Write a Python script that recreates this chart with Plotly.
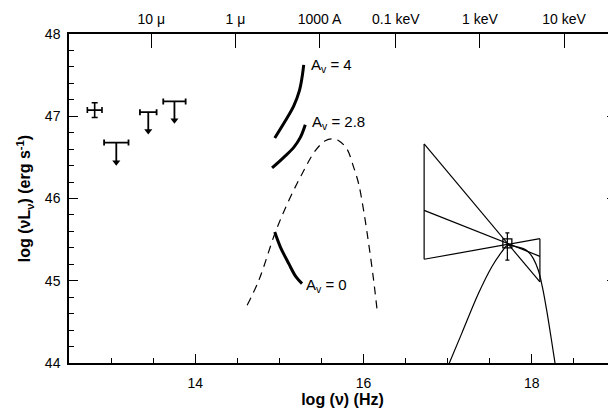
import plotly.graph_objects as go

# ---------------- data ----------------
# IR detection (with error bars)
ir_x = [12.805]
ir_y = [47.075]
ir_xerr = [0.087]
ir_yerr = [0.09]

# IR upper limits
ul_x = [13.062, 13.442, 13.753]
ul_y = [46.68, 47.05, 47.18]
ul_xerr = [0.145, 0.099, 0.133]
ul_len = [0.24, 0.23, 0.23]

# dereddened UV segments
av4_x = [14.945, 15.071, 15.171, 15.237, 15.269, 15.289]
av4_y = [46.736, 46.945, 47.127, 47.309, 47.470, 47.624]
av28_x = [14.913, 15.052, 15.171, 15.249, 15.308]
av28_y = [46.372, 46.501, 46.622, 46.743, 46.897]
av0_x = [14.945, 15.012, 15.111, 15.198, 15.269]
av0_y = [45.592, 45.410, 45.209, 45.046, 44.966]

# dashed big blue bump
bump_x = [14.617, 14.756, 14.953, 15.112, 15.269, 15.427, 15.546, 15.625,
          15.705, 15.803, 15.883, 15.942, 16.001, 16.061, 16.120, 16.159]
bump_y = [44.703, 45.006, 45.592, 45.976, 46.299, 46.582, 46.703, 46.724,
          46.703, 46.602, 46.379, 46.178, 45.855, 45.451, 45.006, 44.663]

# X-ray bow-tie
bow_x_left = 16.720
bow_x_right = 18.096
bow_left_y = [46.663, 45.855, 45.261]   # top, middle, bottom
bow_right_y = [44.985, 45.297, 45.512]  # ends of the same lines

xr_x = [17.709]
xr_y = [45.454]
xr_err_up = [0.129]
xr_err_dn = [0.203]

# curved X-ray model
xcurve_x = [17.001, 17.167, 17.365, 17.523, 17.642, 17.709, 17.800, 17.899,
            17.959, 18.018, 18.077, 18.125, 18.176, 18.227, 18.282]
xcurve_y = [43.955, 44.360, 44.845, 45.168, 45.350, 45.430, 45.418, 45.390,
            45.350, 45.269, 45.127, 44.925, 44.642, 44.319, 43.955]

# curve labels
lab_text = ["A<sub>v</sub> = 4", "A<sub>v</sub> = 2.8", "A<sub>v</sub> = 0"]
lab_x = [15.35, 15.36, 15.29]
lab_y = [47.62, 46.93, 44.94]

# top axis
top_vals = [13.477, 14.477, 15.477, 16.383, 17.383, 18.383]
top_text = ["10 \u03bc", "1 \u03bc", "1000 A", "0.1 keV", "1 keV", "10 keV"]

xrange_ = [12.5, 19.0]
yrange_ = [44.0, 48.0]

FONT = "Liberation Sans, Arial, Helvetica, sans-serif"
BLACK = "black"

fig = go.Figure()

# IR point with errors
fig.add_trace(go.Scatter(
    x=ir_x, y=ir_y, mode="markers",
    marker=dict(size=1, color=BLACK),
    error_x=dict(type="data", array=ir_xerr, width=3, thickness=1.6, color=BLACK),
    error_y=dict(type="data", array=ir_yerr, width=3, thickness=1.6, color=BLACK),
    showlegend=False))

# upper limits: horizontal bar + stem
fig.add_trace(go.Scatter(
    x=ul_x, y=ul_y, mode="markers",
    marker=dict(size=1, color=BLACK),
    error_x=dict(type="data", array=ul_xerr, width=3, thickness=1.8, color=BLACK),
    error_y=dict(type="data", symmetric=False, array=[0, 0, 0], arrayminus=ul_len,
                 width=0, thickness=1.8, color=BLACK),
    showlegend=False))
# arrow heads
fig.add_trace(go.Scatter(
    x=ul_x, y=[y - l for y, l in zip(ul_y, ul_len)], mode="markers",
    marker=dict(symbol="triangle-down", size=7, color=BLACK),
    showlegend=False))

# thick UV segments
for xs, ys in [(av4_x, av4_y), (av28_x, av28_y), (av0_x, av0_y)]:
    fig.add_trace(go.Scatter(x=xs, y=ys, mode="lines", line=dict(color=BLACK, width=3, shape="spline"),
                             showlegend=False))

# dashed bump
fig.add_trace(go.Scatter(x=bump_x, y=bump_y, mode="lines",
                         line=dict(color=BLACK, width=1.2, dash="8px,6px", shape="spline"),
                         showlegend=False))

# bow-tie lines
for yl, yr in zip(bow_left_y, bow_right_y):
    fig.add_trace(go.Scatter(x=[bow_x_left, bow_x_right], y=[yl, yr], mode="lines",
                             line=dict(color=BLACK, width=1.2), showlegend=False))
fig.add_trace(go.Scatter(x=[bow_x_left, bow_x_left], y=[min(bow_left_y), max(bow_left_y)],
                         mode="lines", line=dict(color=BLACK, width=1.2), showlegend=False))
fig.add_trace(go.Scatter(x=[bow_x_right, bow_x_right], y=[min(bow_right_y), max(bow_right_y)],
                         mode="lines", line=dict(color=BLACK, width=1.2), showlegend=False))

# curved model
fig.add_trace(go.Scatter(x=xcurve_x, y=xcurve_y, mode="lines",
                         line=dict(color=BLACK, width=1.2, shape="spline"), showlegend=False))

# X-ray point
fig.add_trace(go.Scatter(
    x=xr_x, y=xr_y, mode="markers",
    marker=dict(symbol="square-open", size=9, color=BLACK, line=dict(width=1.3)),
    error_y=dict(type="data", symmetric=False, array=xr_err_up, arrayminus=xr_err_dn,
                 width=2, thickness=1.2, color=BLACK),
    showlegend=False))

# labels
for t, lx, ly in zip(lab_text, lab_x, lab_y):
    fig.add_annotation(x=lx, y=ly, text=t, showarrow=False, xanchor="left", yanchor="middle",
                       font=dict(family=FONT, size=15, color=BLACK))

# top axis dummy trace
fig.add_trace(go.Scatter(x=[None], y=[None], xaxis="x2", showlegend=False))

# the page adds an 8px body margin, so the figure is sized to fit inside the window
fig.update_layout(
    width=608, height=401,
    margin=dict(l=61, r=0, t=26, b=46),
    paper_bgcolor="white", plot_bgcolor="white",
    font=dict(family=FONT, size=14, color=BLACK),
    showlegend=False,
    xaxis=dict(
        range=xrange_, showgrid=False, zeroline=False, automargin=False,
        showline=True, linecolor=BLACK, linewidth=1.5, mirror=True,
        tickmode="array", tickvals=[14, 16, 18], ticktext=["14", "16", "18"],
        ticks="inside", ticklen=9, tickwidth=1.2, tickcolor=BLACK,
        minor=dict(tickvals=[13, 13.5, 14.5, 15, 15.5, 16.5, 17, 17.5, 18.5],
                   ticks="inside", ticklen=5, tickwidth=1.2, tickcolor=BLACK),
        ticklabelstandoff=6,
        tickfont=dict(size=14),
        title=dict(text="<b>log (\u03bd) (Hz)</b>", font=dict(size=16), standoff=3),
    ),
    xaxis2=dict(
        overlaying="x", side="top", range=xrange_, showgrid=False, zeroline=False,
        automargin=False,
        showline=False, tickmode="array", tickvals=top_vals, ticktext=top_text,
        ticks="inside", ticklen=14, tickwidth=1.2, tickcolor=BLACK,
        ticklabelstandoff=6, tickfont=dict(size=14),
    ),
    yaxis=dict(
        range=yrange_, showgrid=False, zeroline=False, automargin=False,
        showline=True, linecolor=BLACK, linewidth=1.5, mirror="ticks",
        tickmode="array", tickvals=[44, 45, 46, 47, 48],
        ticks="inside", ticklen=9, tickwidth=1.2, tickcolor=BLACK,
        minor=dict(dtick=0.2, ticks="inside", ticklen=5, tickwidth=1.2, tickcolor=BLACK),
        ticklabelstandoff=4,
        tickfont=dict(size=14),
        title=dict(text="<b>log (\u03bdL<sub>\u03bd</sub>) (erg s<sup>-1</sup>)</b>",
                   font=dict(size=16), standoff=10),
    ),
)

fig.write_html("out.html")
